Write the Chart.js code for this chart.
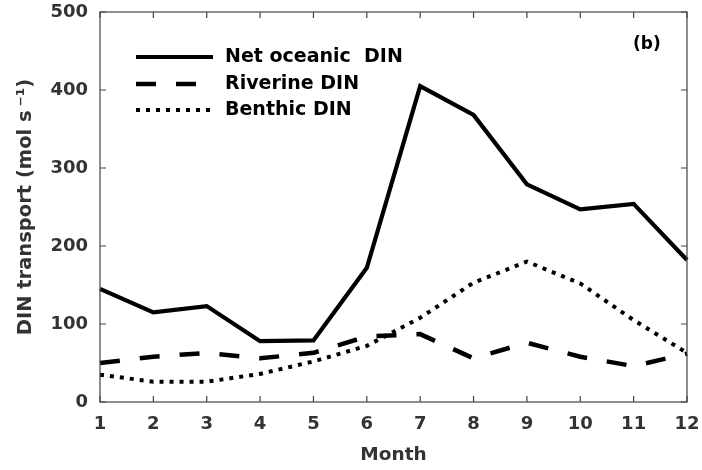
<!DOCTYPE html>
<html><head><meta charset="utf-8">
<script src="https://cdn.jsdelivr.net/npm/chart.js@4/dist/chart.umd.min.js"></script>
<style>html,body{margin:0;padding:0;background:#fff}#w{width:702px;height:470px}</style>
</head><body><div id="w"><canvas id="c"></canvas></div>
<script>
const months = [1,2,3,4,5,6,7,8,9,10,11,12];
const netOceanic = [145,115,123,78,79,172,405,368,279,247,254,182];
const riverine = [50,58,63,56,63,84,87,56,76,58,46,62];
const benthic = [35,26,26,36,52,72,108,153,180,152,105,63];
const yTicks = [0,100,200,300,400,500];
const seriesNames = ['Net oceanic  DIN','Riverine DIN','Benthic DIN'];

const FONT = 'DejaVu Sans';
const axisColor = '#444';
const textColor = '#333';

const framePlugin = {
  id:'frame',
  afterDatasetsDraw(chart){
    const {ctx, chartArea:a, scales:{x,y}} = chart;
    ctx.save();
    ctx.strokeStyle = axisColor; ctx.lineWidth = 1.2; ctx.setLineDash([]);
    ctx.strokeRect(a.left, a.top, a.right-a.left, a.bottom-a.top);
    const tl = 6;
    ctx.beginPath();
    months.forEach((m,i)=>{ const px = x.getPixelForValue(i);
      ctx.moveTo(px,a.bottom); ctx.lineTo(px,a.bottom-tl);
      ctx.moveTo(px,a.top); ctx.lineTo(px,a.top+tl); });
    yTicks.forEach(v=>{ const py = y.getPixelForValue(v);
      ctx.moveTo(a.left,py); ctx.lineTo(a.left+tl,py);
      ctx.moveTo(a.right,py); ctx.lineTo(a.right-tl,py); });
    ctx.stroke();
    // legend
    const ds = chart.data.datasets;
    const lx0 = 136, lx1 = 213, ys = [57,84,110];
    ds.forEach((d,i)=>{
      ctx.strokeStyle = '#000'; ctx.lineWidth = d.borderWidth;
      ctx.setLineDash(d.borderDash || []); ctx.lineCap = 'butt';
      ctx.beginPath(); ctx.moveTo(lx0,ys[i]); ctx.lineTo(lx1,ys[i]); ctx.stroke();
      ctx.setLineDash([]);
      ctx.fillStyle = '#000'; ctx.font = 'bold 19px "'+FONT+'"';
      ctx.textBaseline = 'middle'; ctx.textAlign = 'left';
      ctx.fillText(d.label, 225, ys[i]);
    });
    ctx.font = 'bold 17px "'+FONT+'"'; ctx.fillStyle = '#000';
    ctx.textAlign = 'left'; ctx.textBaseline = 'middle';
    ctx.fillText('(b)', 633, 45);
    ctx.restore();
  }
};

new Chart(document.getElementById('c'), {
  type:'line',
  data:{
    labels: months,
    datasets:[
      {label:seriesNames[0], data:netOceanic, borderColor:'#000', borderWidth:4.2, pointRadius:0, tension:0, borderJoinStyle:'miter'},
      {label:seriesNames[1], data:riverine, borderColor:'#000', borderWidth:4.5, borderDash:[20,20], pointRadius:0, tension:0},
      {label:seriesNames[2], data:benthic, borderColor:'#000', borderWidth:4, borderDash:[4,6], pointRadius:0, tension:0}
    ]
  },
  options:{
    responsive:true, maintainAspectRatio:false, animation:false,
    layout:{padding:{top:12,right:15,left:0,bottom:0}},
    plugins:{legend:{display:false}, tooltip:{enabled:false}},
    scales:{
      x:{type:'category', offset:false,
        grid:{display:false, drawTicks:false}, border:{display:false},
        ticks:{color:textColor, font:{family:FONT, size:18, weight:'bold'}, padding:12, maxRotation:0, autoSkip:false},
        title:{display:true, text:'Month', color:textColor, font:{family:FONT, size:18.5, weight:'bold'}, padding:{top:0,bottom:4}},
        afterFit(s){ s.height = 68; s.paddingLeft = 0; s.paddingRight = 0; }
      },
      y:{min:0, max:500,
        grid:{display:false, drawTicks:false}, border:{display:false},
        afterBuildTicks(s){ s.ticks = yTicks.map(v=>({value:v})); },
        ticks:{color:textColor, font:{family:FONT, size:18, weight:'bold'}, padding:12},
        title:{display:true, text:'DIN transport (mol s\u2009\u207B\u00B9)', color:textColor, font:{family:FONT, size:19.5, weight:'bold'}, padding:{top:14,bottom:0}},
        afterFit(s){ s.width = 100; s.paddingTop = 0; s.paddingBottom = 0; }
      }
    }
  },
  plugins:[framePlugin]
});
</script></body></html>
